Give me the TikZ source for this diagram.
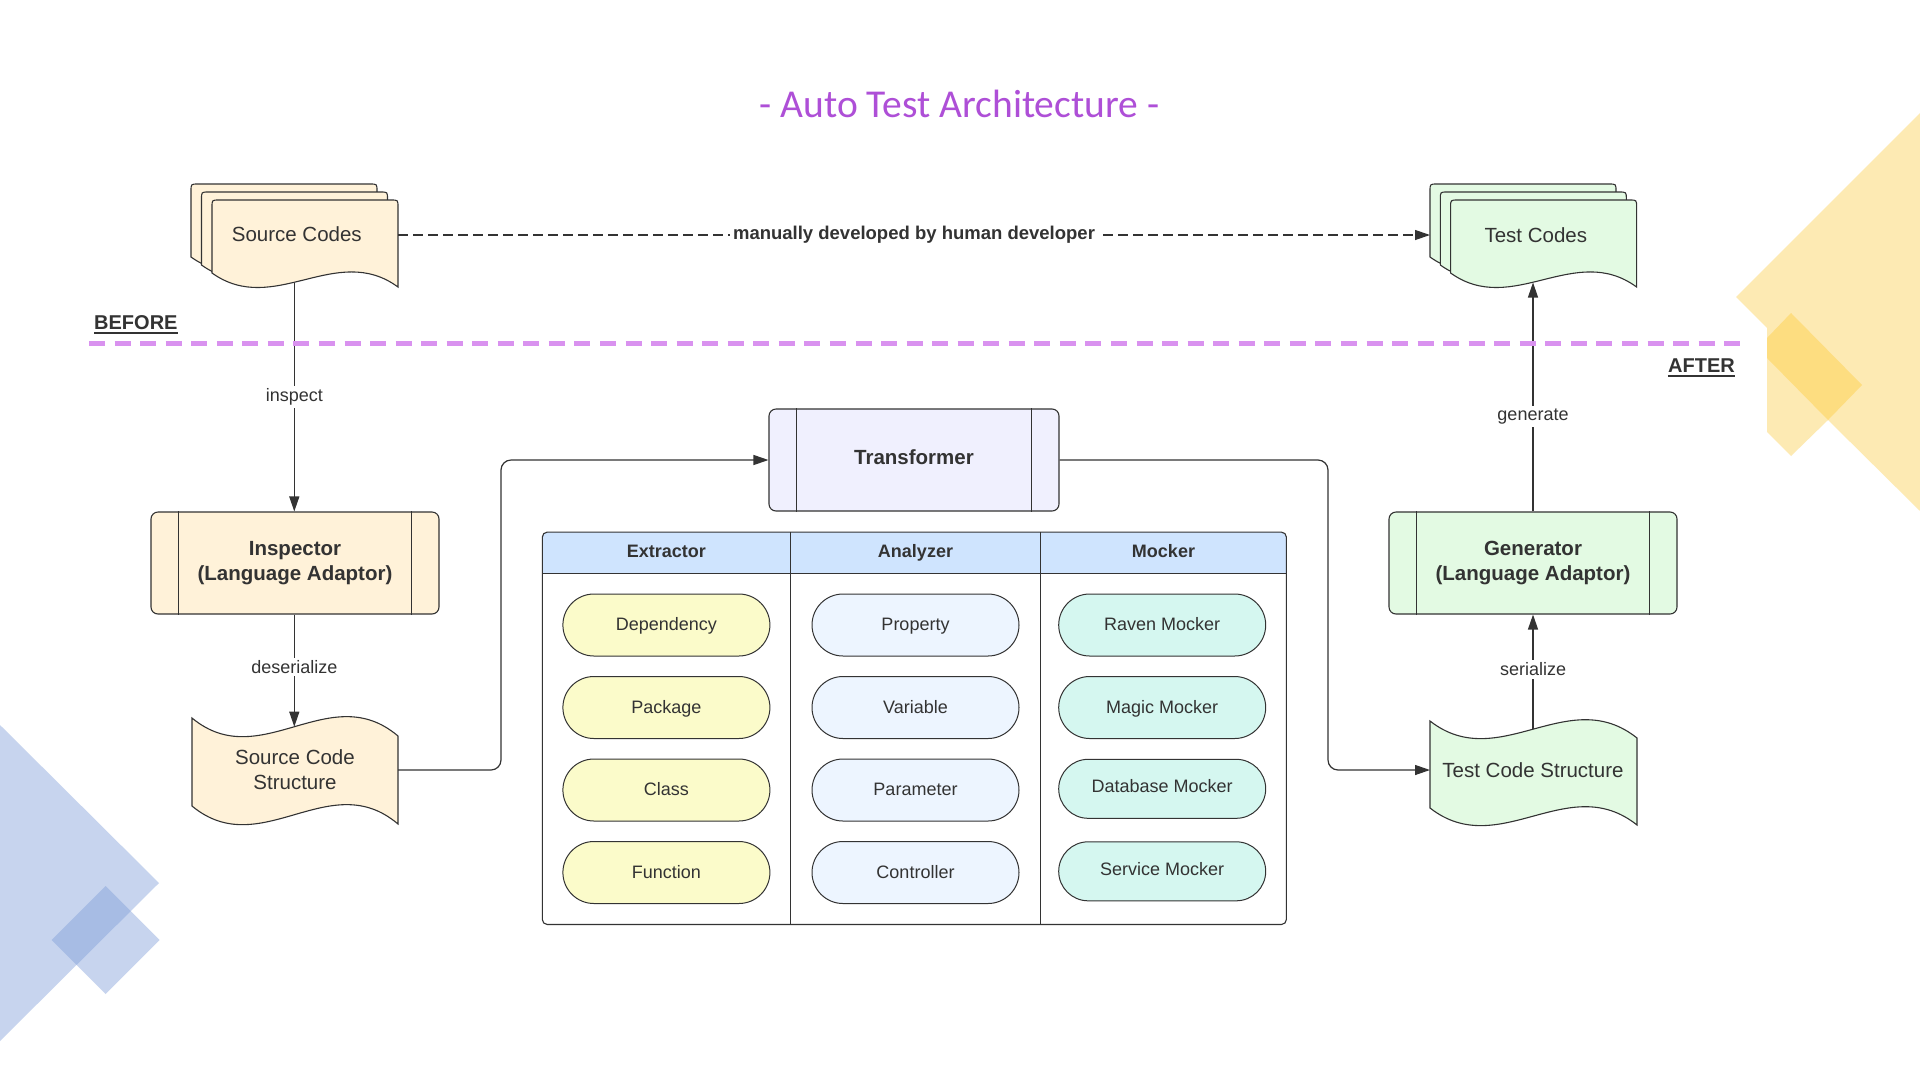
\documentclass[tikz,border=0pt]{standalone}
\usepackage{fontspec}
\setmainfont{Liberation Sans}
\newfontfamily\titlefont{Carlito}
\usetikzlibrary{arrows.meta}
\definecolor{ink}{HTML}{333333}
\definecolor{srcfill}{HTML}{FFF2D9}
\definecolor{tstfill}{HTML}{E3FAE3}
\definecolor{transfill}{HTML}{F0F0FE}
\definecolor{hdrfill}{HTML}{CFE4FE}
\definecolor{extfill}{HTML}{FBFBCA}
\definecolor{anafill}{HTML}{EDF5FF}
\definecolor{mocfill}{HTML}{D5F7F0}
\definecolor{titlec}{HTML}{AE4FD7}
\definecolor{sepc}{HTML}{D992EF}
\definecolor{yellowlight}{HTML}{FDEAB3}
\definecolor{yellowdark}{HTML}{FDDD80}
\definecolor{decoblue}{HTML}{7F9DD9}

% document shape: options, x0, y0, width, height (left side), drop d
\newcommand\docshape[6]{%
  \filldraw[#1] (#2,{#3+#5}) -- (#2,{#3+7}) .. controls (#2,#3) .. ({#2+7},#3)
   -- ({#2+#4-7},#3) .. controls ({#2+#4},#3) .. ({#2+#4},{#3+7})
   -- ({#2+#4},{#3+#5+#6}) .. controls ({#2+2*#4/3},{#3+#5-2.236*#6}) and ({#2+#4/3},{#3+#5+3.165*#6}) .. (#2,{#3+#5}) -- cycle;}
% tape shape: options, x0, y0, width, height, drop d
\newcommand\tapeshape[6]{%
  \filldraw[#1] (#2,#3) .. controls ({#2+#4/3},{#3+3.165*#6}) and ({#2+2*#4/3},{#3-2.236*#6}) .. ({#2+#4},{#3+#6})
   -- ({#2+#4},{#3+#6+#5}) .. controls ({#2+2*#4/3},{#3+#5-2.236*#6}) and ({#2+#4/3},{#3+#5+3.165*#6}) .. (#2,{#3+#5}) -- cycle;}

\tikzset{
  docst/.style={draw=ink, line width=1.1pt},
  txt/.style={text=ink, inner sep=1pt, font=\fontsize{20.5}{25}\selectfont},
  conn/.style={draw=ink, line width=1.2pt, -{Triangle[length=15pt,width=10pt]}},
  lbl/.style={fill=white, text=ink, inner sep=2.5pt, font=\fontsize{18}{22}\selectfont},
  lblb/.style={fill=white, text=ink, inner sep=3pt, font=\bfseries\fontsize{18.5}{22}\selectfont},
  procbox/.style={draw=ink, line width=1.1pt, rounded corners=7pt, minimum width=288pt,
    minimum height=102pt, align=center, text=ink, font=\bfseries\fontsize{20.5}{25}\selectfont},
  pill/.style={draw=ink, line width=1pt, rounded corners=31pt, minimum width=207pt,
    minimum height=62pt, text=ink, text height=13.5pt, text depth=2.4pt, inner sep=0pt,
    font=\fontsize{18}{22}\selectfont},
  hdr/.style={anchor=base, text=ink, inner sep=0pt, font=\bfseries\fontsize{18}{22}\selectfont},
  tag/.style={text=ink, inner sep=0pt, font=\bfseries\fontsize{20}{24}\selectfont},
}

\begin{document}
\begin{tikzpicture}[x=1pt,y=-1pt]
\useasboundingbox (0,0) rectangle (1920,1080);
\fill[white] (0,0) rectangle (1920,1080);

% ---------- decorations ----------
\fill[yellowlight] (1920,113) -- (1736,297) -- (1767,328) -- (1767,432) -- (1791,456) -- (1828,420) -- (1920,511) -- cycle;
\fill[yellowdark] (1767,338) -- (1791,313) -- (1862,385) -- (1828,420) -- (1767,358) -- cycle;
\fill[decoblue, fill opacity=0.43] (0,725) -- (159,883) -- (0,1041) -- cycle;
\fill[decoblue, fill opacity=0.43] (51.7,940) -- (105.7,886) -- (159.7,940) -- (105.7,994) -- cycle;

% ---------- title ----------
\node[anchor=base, text=titlec, inner sep=0pt, font=\titlefont\fontsize{39.5}{46}\selectfont] (title) at (959.5,117) {- Auto Test Architecture -};

% ---------- source codes (stacked documents) ----------
\docshape{docst, fill=srcfill}{191}{184}{186}{73}{14}
\docshape{docst, fill=srcfill}{201.5}{192}{186}{73}{14}
\docshape{docst, fill=srcfill}{212}{200}{186}{73}{14}
\node[txt] (srccodes) at (296.8,234) {Source Codes};
\coordinate (srccodes-r) at (398,235);
\coordinate (srccodes-b) at (294.3,282.5);

% ---------- test codes (stacked documents) ----------
\docshape{docst, fill=tstfill}{1430}{184}{186}{73}{14}
\docshape{docst, fill=tstfill}{1440.3}{192}{186}{73}{14}
\docshape{docst, fill=tstfill}{1450.6}{200}{186}{73}{14}
\node[txt] (testcodes) at (1535.8,235) {Test Codes};
\coordinate (testcodes-l) at (1430,235);
\coordinate (testcodes-b) at (1533,282.5);

% ---------- process boxes ----------
\node[procbox, fill=srcfill] (insp) at (295,563) {Inspector\\(Language Adaptor)};
\node[procbox, fill=transfill, minimum width=290pt, text depth=5pt] (trans) at (914,460) {Transformer};
\node[procbox, fill=tstfill] (gen) at (1533,563) {Generator\\(Language Adaptor)};
\foreach \b in {insp,trans,gen}{
  \draw[ink, line width=1pt] ([xshift=28.5pt]\b.north west) -- ([xshift=28.5pt]\b.south west);
  \draw[ink, line width=1pt] ([xshift=-28.5pt]\b.north east) -- ([xshift=-28.5pt]\b.south east);
}

% ---------- structures ----------
\tapeshape{docst, fill=srcfill}{192}{718}{206}{88}{18}
\node[txt, align=center] (scs) at (295,769.5) {Source Code\\Structure};
\coordinate (scs-t) at (294.3,726.7);
\coordinate (scs-r) at (398,770);

\tapeshape{docst, fill=tstfill}{1430}{721}{207}{87}{17}
\node[txt] (tcs) at (1533,770) {Test Code Structure};
\coordinate (tcs-t) at (1533,729);
\coordinate (tcs-l) at (1430,770);

% ---------- table ----------
\node[inner sep=0pt, minimum width=743.7pt, minimum height=392pt] (table) at (914.35,728.3) {};
\begin{scope}
  \clip[rounded corners=5pt] (table.north west) rectangle (table.south east);
  \fill[hdrfill] (table.north west) rectangle (1286.2,573.3);
\end{scope}
\draw[ink, line width=1.1pt, rounded corners=5pt] (table.north west) rectangle (table.south east);
\draw[ink, line width=1.1pt] (542.5,573.3) -- (1286.2,573.3);
\draw[ink, line width=1.1pt] (790.3,532.3) -- (790.3,924.3);
\draw[ink, line width=1.1pt] (1040.8,532.3) -- (1040.8,924.3);
\node[hdr] (hext) at (666.4,557) {Extractor};
\node[hdr] (hana) at (915.5,557) {Analyzer};
\node[hdr] (hmoc) at (1163.5,557) {Mocker};

\node[pill, fill=extfill] (p11) at (666.4,625) {Dependency};
\node[pill, fill=extfill] (p12) at (666.4,707.5) {Package};
\node[pill, fill=extfill] (p13) at (666.4,790) {Class};
\node[pill, fill=extfill] (p14) at (666.4,872.5) {Function};
\node[pill, fill=anafill] (p21) at (915.5,625) {Property};
\node[pill, fill=anafill] (p22) at (915.5,707.5) {Variable};
\node[pill, fill=anafill] (p23) at (915.5,790) {Parameter};
\node[pill, fill=anafill] (p24) at (915.5,872.5) {Controller};
\node[pill, fill=mocfill] (p31) at (1162.2,625) {Raven Mocker};
\node[pill, fill=mocfill] (p32) at (1162.2,707.5) {Magic Mocker};
\node[pill, fill=mocfill, minimum height=59pt, rounded corners=29.5pt, text depth=7pt] (p33) at (1162.2,788.8) {Database Mocker};
\node[pill, fill=mocfill, minimum height=59pt, rounded corners=29.5pt, text depth=6pt] (p34) at (1162.2,871.3) {Service Mocker};

% ---------- connectors ----------
\draw[conn, dash pattern=on 10pt off 5pt] (srccodes-r) -- node[lblb] {manually developed by human developer} (testcodes-l);
\draw[conn] (srccodes-b) -- node[lbl, pos=0.5] {inspect} (srccodes-b |- insp.north);
\draw[conn] (scs-t |- insp.south) -- node[lbl, pos=0.47] {deserialize} (scs-t);
\draw[conn, rounded corners=10pt] (scs-r) -- (501,770) |- (trans.west);
\draw[conn, rounded corners=10pt] (trans.east) -- (1328,460) |- (tcs-l);
\draw[conn] (tcs-t) -- node[lbl, pos=0.52] {serialize} (tcs-t |- gen.south);
\draw[conn] (testcodes-b |- gen.north) -- node[lbl, pos=0.415] {generate} (testcodes-b);

% ---------- before / after separator ----------
\draw[sepc, line width=5pt, dash pattern=on 16pt off 9.55pt] (89,343) -- (1740,343);
\node[tag, anchor=base west] (before) at (94,329) {BEFORE};
\draw[ink, line width=2pt] ([yshift=-3.5pt]before.base west) -- ([yshift=-3.5pt]before.base east);
\node[tag, anchor=base east] (after) at (1735,372.5) {AFTER};
\draw[ink, line width=2pt] ([yshift=-3.5pt]after.base west) -- ([yshift=-3.5pt]after.base east);
\end{tikzpicture}
\end{document}
